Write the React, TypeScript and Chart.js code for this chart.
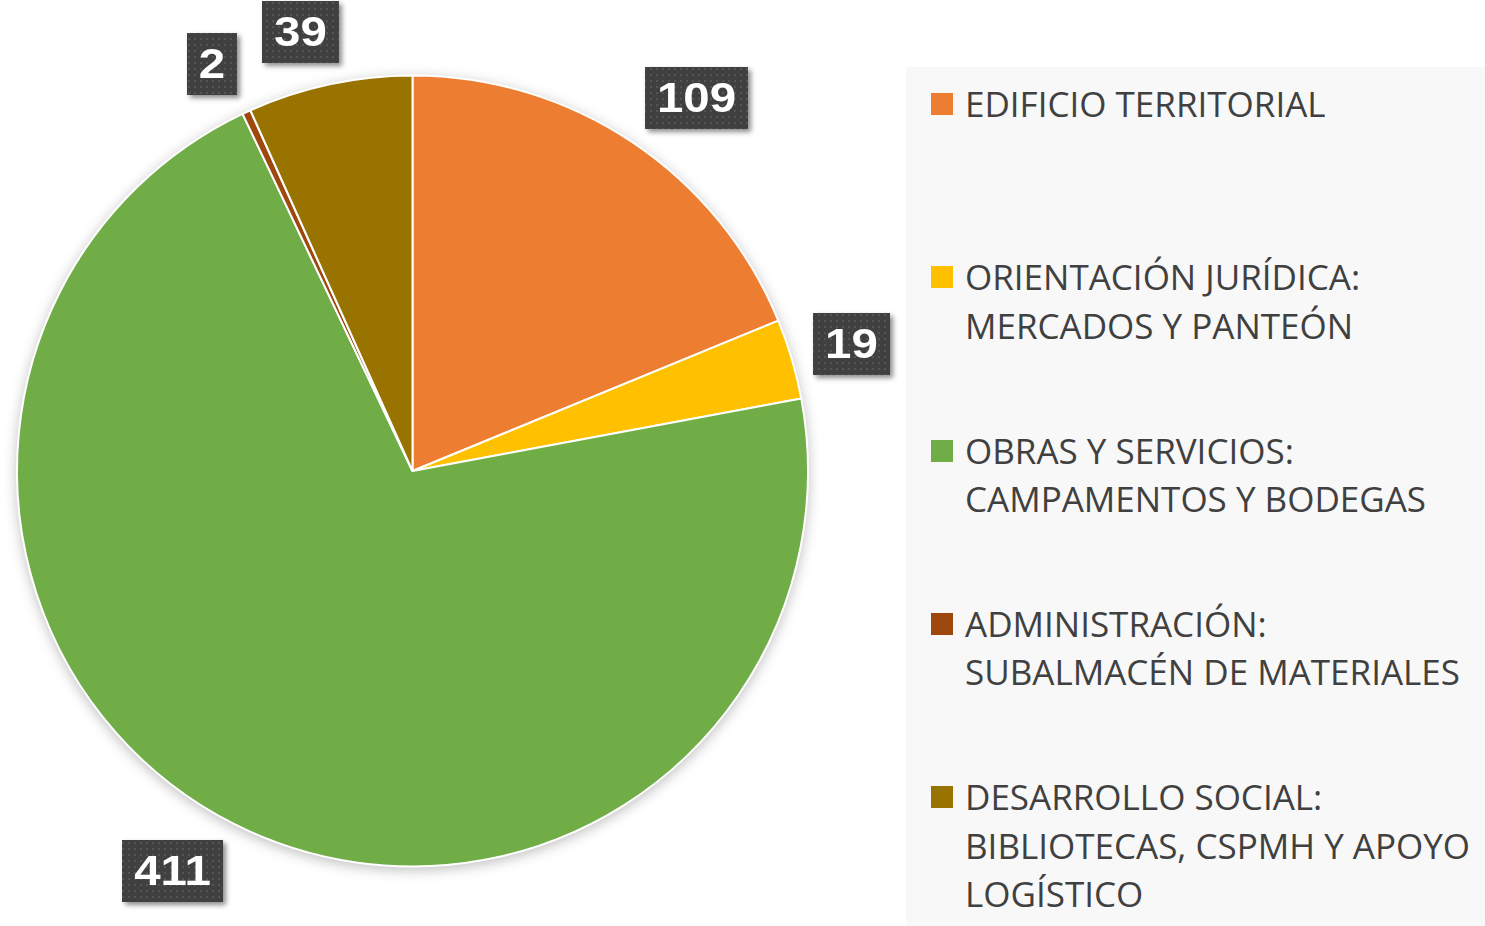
import React, { useEffect, useRef } from "react";
import { Chart, registerables } from "chart.js";

Chart.register(...registerables);

const categories = [
  "EDIFICIO TERRITORIAL",
  "ORIENTACIÓN JURÍDICA:\nMERCADOS Y PANTEÓN",
  "OBRAS Y SERVICIOS:\nCAMPAMENTOS Y BODEGAS",
  "ADMINISTRACIÓN:\nSUBALMACÉN DE MATERIALES",
  "DESARROLLO SOCIAL:\nBIBLIOTECAS, CSPMH Y APOYO\nLOGÍSTICO",
];
const values = [109, 19, 411, 2, 39];
const colors = ["#ED7D31", "#FFC000", "#70AD47", "#9E480E", "#997300"];

function makePattern(ctx: CanvasRenderingContext2D) {
  const c = document.createElement("canvas");
  c.width = 6;
  c.height = 6;
  const p = c.getContext("2d")!;
  p.fillStyle = "#404040";
  p.fillRect(0, 0, 6, 6);
  p.fillStyle = "#555555";
  p.fillRect(2, 2, 2, 2);
  return ctx.createPattern(c, "repeat")!;
}

const shadowPlugin = {
  id: "pieShadow",
  beforeDatasetsDraw(chart: any) {
    const meta = chart.getDatasetMeta(0);
    const arc = meta.data[0];
    if (!arc) return;
    const { x, y, outerRadius } = arc.getProps(["x", "y", "outerRadius"], true);
    const ctx = chart.ctx;
    ctx.save();
    ctx.shadowColor = "rgba(0,0,0,0.28)";
    ctx.shadowBlur = 14;
    ctx.shadowOffsetX = 0;
    ctx.shadowOffsetY = 3;
    ctx.fillStyle = "#ffffff";
    ctx.beginPath();
    ctx.arc(x, y, outerRadius, 0, Math.PI * 2);
    ctx.fill();
    ctx.restore();
  },
};

const STRETCH = 1.13;

const labelPlugin = {
  id: "boxLabels",
  afterDatasetsDraw(chart: any) {
    const ctx: CanvasRenderingContext2D = chart.ctx;
    const meta = chart.getDatasetMeta(0);
    const ds = chart.data.datasets[0];
    const pattern = makePattern(ctx);
    ctx.save();
    ctx.font = "bold 42px 'Liberation Sans', Arial, sans-serif";
    meta.data.forEach((arc: any, i: number) => {
      const { x, y, startAngle, endAngle, outerRadius } = arc.getProps(
        ["x", "y", "startAngle", "endAngle", "outerRadius"],
        true
      );
      const a = (startAngle + endAngle) / 2;
      const text = String(ds.data[i]);
      const tw = ctx.measureText(text).width * STRETCH;
      const w = Math.round(tw + 24);
      const h = 62;
      const hw = w / 2;
      const hh = h / 2;
      const cos = Math.cos(a);
      const sin = Math.sin(a);
      const r = outerRadius + 22;
      const fx = Math.min(1, 3 * Math.abs(cos)) * Math.sign(cos);
      const cx = x + r * cos + hw * fx;
      const cy = y + r * sin + hh * sin;
      const bx = Math.round(cx - hw);
      const by = Math.round(cy - hh);
      ctx.save();
      ctx.shadowColor = "rgba(0,0,0,0.45)";
      ctx.shadowBlur = 5;
      ctx.shadowOffsetX = 3;
      ctx.shadowOffsetY = 3;
      ctx.fillStyle = "#404040";
      ctx.fillRect(bx, by, w, h);
      ctx.restore();
      ctx.fillStyle = pattern;
      ctx.fillRect(bx, by, w, h);
      ctx.save();
      ctx.translate(bx + w / 2, by + h / 2 + 2);
      ctx.scale(STRETCH, 1);
      ctx.fillStyle = "#ffffff";
      ctx.textAlign = "center";
      ctx.textBaseline = "middle";
      ctx.fillText(text, 0, 0);
      ctx.restore();
    });
    ctx.restore();
  },
};

export default function App() {
  const ref = useRef<HTMLCanvasElement>(null);
  useEffect(() => {
    const chart = new Chart(ref.current!, {
      type: "pie",
      data: {
        labels: categories,
        datasets: [
          {
            data: values,
            backgroundColor: colors,
            borderColor: "#ffffff",
            borderWidth: 2,
          },
        ],
      },
      options: {
        animation: false,
        responsive: false,
        layout: { padding: { left: 16, right: 91, top: 74, bottom: 58 } },
        plugins: {
          legend: { display: false },
          tooltip: { enabled: false },
        },
      },
      plugins: [shadowPlugin, labelPlugin],
    });
    return () => chart.destroy();
  }, []);

  return (
    <div
      style={{
        position: "absolute",
        left: 0,
        top: 0,
        width: 1485,
        height: 926,
        background: "#ffffff",
        overflow: "hidden",
      }}
    >
      <canvas
        ref={ref}
        width={900}
        height={926}
        style={{ position: "absolute", left: 0, top: 0, width: 900, height: 926 }}
      />
      <div
        style={{
          position: "absolute",
          left: 906,
          top: 67,
          width: 579,
          height: 859,
          background: "#f8f8f8",
        }}
      >
        {categories.map((c, i) => (
          <div
            key={i}
            style={{
              position: "absolute",
              left: 0,
              top: 104 - 67 - 24 + i * 173.3,
              width: 579,
            }}
          >
            <div
              style={{
                position: "absolute",
                left: 25,
                top: 13,
                width: 22,
                height: 22,
                background: colors[i],
              }}
            />
            <div
              style={{
                position: "absolute",
                left: 59,
                top: 0,
                whiteSpace: "pre",
                fontFamily: "'Open Sans', sans-serif",
                fontSize: 35,
                letterSpacing: 0,
                lineHeight: "48.5px",
                color: "#404040",
              }}
            >
              {c}
            </div>
          </div>
        ))}
      </div>
    </div>
  );
}
